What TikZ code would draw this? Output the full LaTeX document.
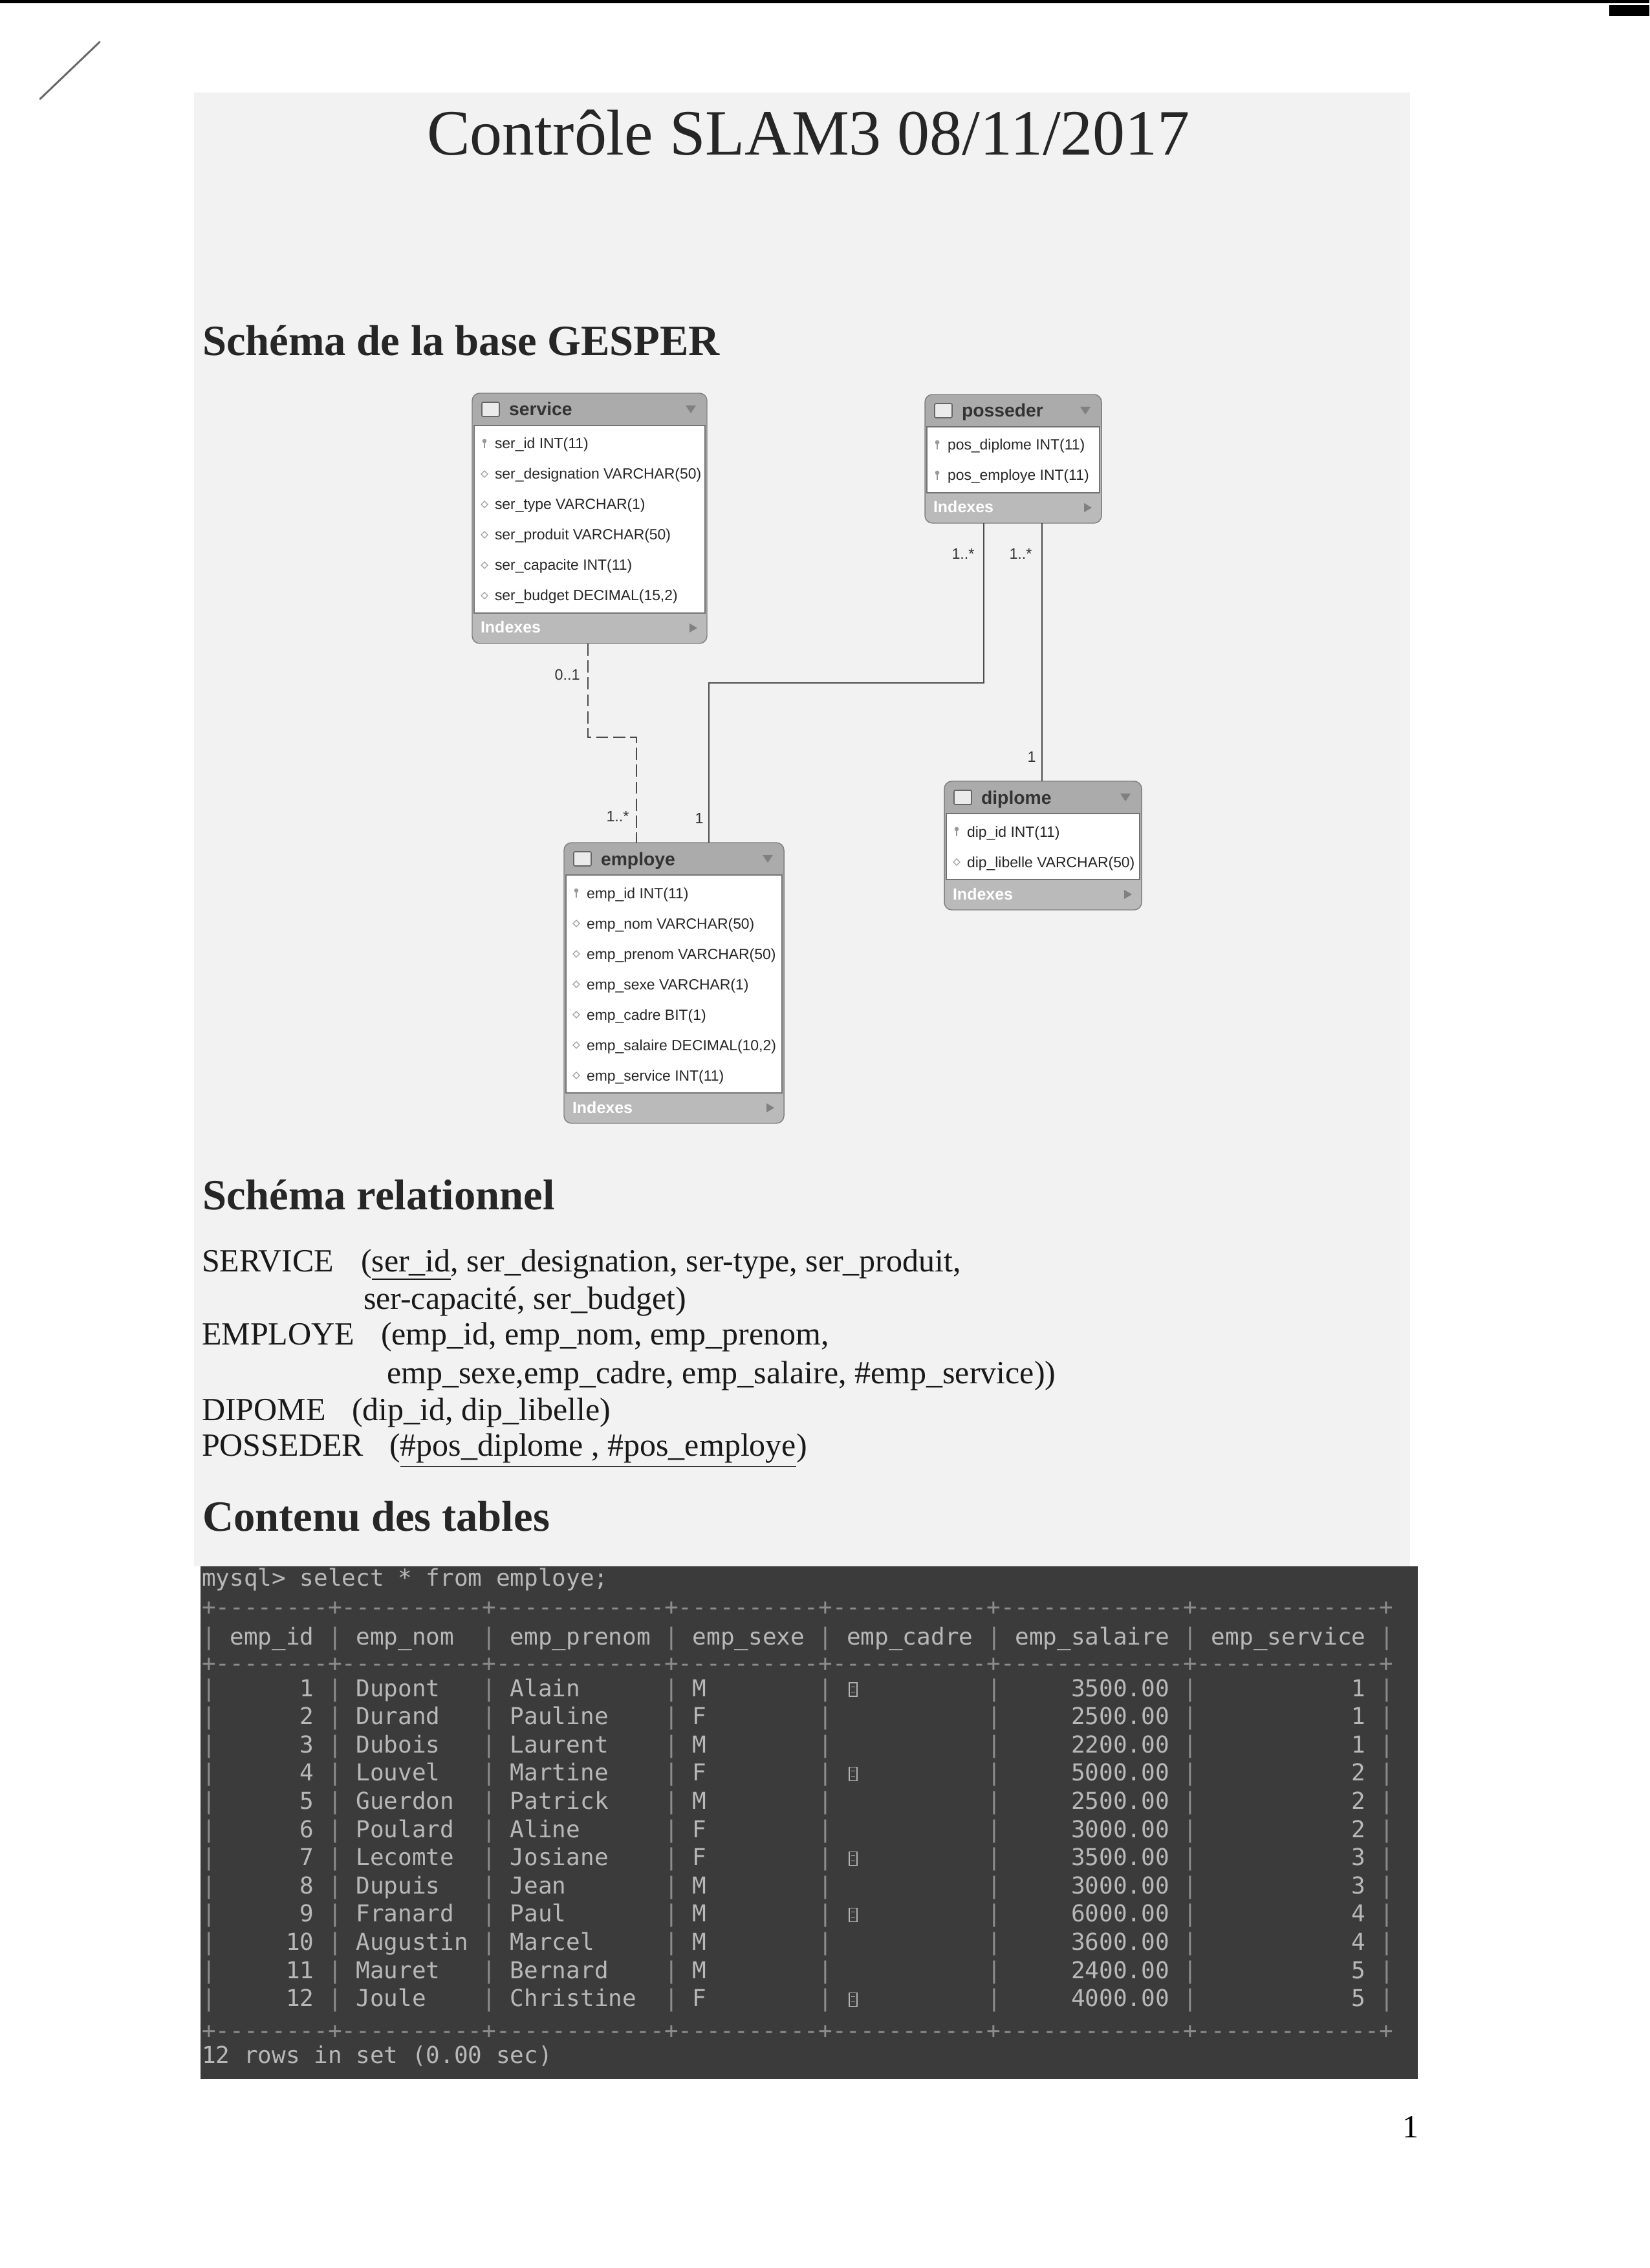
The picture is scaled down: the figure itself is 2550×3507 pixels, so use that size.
\documentclass[tikz,border=0pt]{standalone}
\usepackage{fontspec}
\setmainfont{Liberation Serif}
\newfontfamily\wbfont{Liberation Sans}
\newfontfamily\termfont{DejaVu Sans Mono}
\usetikzlibrary{calc}

% Workbench-style table: name, left, top, width, number of rows, title
\newcommand\wbtable[6]{%
  \pgfmathsetmacro\wbH{105+47*#5}%
  \pgfmathsetmacro\wbB{#3+\wbH}%
  \pgfmathsetmacro\wbE{#3+58+47*#5}%
  \begin{scope}
    \clip[rounded corners=2.8pt] (#2,#3) rectangle ({#2+#4},\wbB);
    \fill[black!27] (#2,#3) rectangle ({#2+#4},\wbB);
    \fill[black!33] (#2,#3) rectangle ({#2+#4},{#3+50});
  \end{scope}
  \fill[white, draw=black!55, line width=0.3pt] ({#2+3},{#3+50}) rectangle ({#2+#4-3},\wbE);
  \draw[black!50, line width=0.35pt, rounded corners=2.8pt] (#2,#3) rectangle ({#2+#4},\wbB);
  \node[minimum width={#4*0.24pt}, minimum height={\wbH*0.24pt}, anchor=north west] (#1) at (#2,#3) {};
  \draw[black!60, fill=black!8, line width=0.4pt, rounded corners=0.5pt] ({#2+15},{#3+14}) rectangle ({#2+42},{#3+36});
  \node[wbtitle] (#1-title) at ({#2+57},{#3+35}) {#6};
  \fill[black!50] ({#2+#4-33},{#3+19}) -- ({#2+#4-17},{#3+19}) -- ({#2+#4-25},{#3+31}) -- cycle;
  \node[wbidx] (#1-idx) at ({#2+13},{\wbB-16}) {Indexes};
  \fill[black!50] ({#2+#4-27},{\wbB-31}) -- ({#2+#4-15},{\wbB-24}) -- ({#2+#4-27},{\wbB-17}) -- cycle;
}

% one column line of a table: table, index, text, k (key) or d (plain)
\newcommand\wbrow[4]{%
  \node[wbrow] (#1-r#2) at ($(#1.north west)+(35,{86+47*#2})$) {#3};
  \coordinate (#1-i#2) at ($(#1.north west)+(19,{78+47*#2})$);
  \if#4k
    \fill[black!40] (#1-i#2) ++(0,-4) circle (0.8pt);
    \draw[black!40, line width=0.35pt] (#1-i#2) ++(0,-2) -- ++(0,9);
  \else
    \draw[black!38, line width=0.3pt] (#1-i#2) ++(-5,0) -- ++(5,-5) -- ++(5,5) -- ++(-5,5) -- cycle;
  \fi
}

% console separator line
\newcommand\tdash[1]{\foreach\q in {1,...,#1}{-\kern0pt}}
\newcommand\tsep{+\tdash{8}+\tdash{10}+\tdash{12}+\tdash{10}+\tdash{11}+\tdash{13}+\tdash{13}+}

\begin{document}
\begin{tikzpicture}[x=0.24pt, y=-0.24pt,
  every node/.style={inner sep=0pt, outer sep=0pt},
  heading/.style={anchor=base west, font=\fontsize{16}{19}\selectfont\bfseries, text=black!85},
  rel/.style={anchor=base west, font=\fontsize{12}{14}\selectfont, text=black!90},
  wbrow/.style={anchor=base west, font=\wbfont\fontsize{5.5}{6.5}\selectfont, text=black!85},
  wbtitle/.style={anchor=base west, font=\wbfont\bfseries\fontsize{6.8}{8}\selectfont, text=black!80},
  wbidx/.style={anchor=base west, font=\wbfont\bfseries\fontsize{6}{7}\selectfont, text=white},
  card/.style={font=\wbfont\fontsize{5.6}{7}\selectfont, text=black!80},
  fk/.style={draw=black!70, line width=0.45pt},
  fkdash/.style={fk, dash pattern=on 4.5pt off 1.8pt},
  term/.style={anchor=base west, font=\termfont\fontsize{8.64}{10}\selectfont, text=black!28},
  termr/.style={term, anchor=base east},
  termsep/.style={term, text=black!45}]

\useasboundingbox (0,0) rectangle (2550,3507);
\fill[white] (0,0) rectangle (2550,3507);

% page edge marks
\fill[black] (0,0) rectangle (2550,5);
\fill[black] (2488,8) rectangle (2550,25);
\draw[black!60, line width=0.7pt, line cap=round] (154,65) -- (62,153);

% pasted content area
\fill[black!5] (300,143) rectangle (2180,2422);

% title and headings
\node[anchor=base, font=\fontsize{24}{28}\selectfont, text=black!85] (title) at (1250,240) {Contrôle SLAM3 08/11/2017};
\node[heading] (h1) at (313,550) {Schéma de la base GESPER};
\node[heading] (h2) at (313,1870) {Schéma relationnel};
\node[heading] (h3) at (313,2367) {Contenu des tables};

% ---------- EER diagram ----------
\wbtable{service}{730}{608}{363}{6}{service}
\wbrow{service}{0}{ser\_id INT(11)}{k}
\wbrow{service}{1}{ser\_designation VARCHAR(50)}{d}
\wbrow{service}{2}{ser\_type VARCHAR(1)}{d}
\wbrow{service}{3}{ser\_produit VARCHAR(50)}{d}
\wbrow{service}{4}{ser\_capacite INT(11)}{d}
\wbrow{service}{5}{ser\_budget DECIMAL(15,2)}{d}

\wbtable{posseder}{1430}{610}{273}{2}{posseder}
\wbrow{posseder}{0}{pos\_diplome INT(11)}{k}
\wbrow{posseder}{1}{pos\_employe INT(11)}{k}

\wbtable{diplome}{1460}{1208}{305}{2}{diplome}
\wbrow{diplome}{0}{dip\_id INT(11)}{k}
\wbrow{diplome}{1}{dip\_libelle VARCHAR(50)}{d}

\wbtable{employe}{872}{1303}{340}{7}{employe}
\wbrow{employe}{0}{emp\_id INT(11)}{k}
\wbrow{employe}{1}{emp\_nom VARCHAR(50)}{d}
\wbrow{employe}{2}{emp\_prenom VARCHAR(50)}{d}
\wbrow{employe}{3}{emp\_sexe VARCHAR(1)}{d}
\wbrow{employe}{4}{emp\_cadre BIT(1)}{d}
\wbrow{employe}{5}{emp\_salaire DECIMAL(10,2)}{d}
\wbrow{employe}{6}{emp\_service INT(11)}{d}

% relationships
\coordinate (j1) at (909,1140);
\coordinate (j2) at (984,1140);
\coordinate (j3) at (1521,1056);
\coordinate (j4) at (1096,1056);
\coordinate (j5) at (1611,1000);
\draw[fkdash] (service.south -| j1) -- (j1) -- (j2) -- (employe.north -| j2);
\draw[fk] (posseder.south -| j3) -- (j3) -- (j4) -- (employe.north -| j4);
\draw[fk] (posseder.south -| j5) -- (diplome.north -| j5);

\node[card] (c1) at (877,1043) {0..1};
\node[card] (c2) at (955,1262) {1..*};
\node[card] (c3) at (1081,1265) {1};
\node[card] (c4) at (1489,856) {1..*};
\node[card] (c5) at (1578,856) {1..*};
\node[card] (c6) at (1595,1170) {1};

% ---------- relational schema ----------
\node[rel] (s1) at (312,1966) {SERVICE};
\node[rel] (s1a) at (558,1966) {(\underline{ser\_id}, ser\_designation, ser-type, ser\_produit,};
\node[rel] (s1b) at (562,2024) {ser-capacité, ser\_budget)};
\node[rel] (s2) at (312,2079) {EMPLOYE};
\node[rel] (s2a) at (589,2079) {(emp\_id, emp\_nom, emp\_prenom,};
\node[rel] (s2b) at (598,2139) {emp\_sexe,emp\_cadre, emp\_salaire, \#emp\_service))};
\node[rel] (s3) at (312,2196) {DIPOME};
\node[rel] (s3a) at (544,2196) {(dip\_id, dip\_libelle)};
\node[rel] (s4) at (312,2251) {POSSEDER};
\node[rel] (s4a) at (602,2251) {(\underline{\#pos\_diplome , \#pos\_employe})};

% ---------- console output ----------
\fill[black!77] (310,2422) rectangle (2192,3215);
\node[term] (cmd) at (312,2452) {mysql> select * from employe;};
\node[termsep] (sep1) at (312,2497) {\tsep};
\node[termsep] (sep2) at (312,2584) {\tsep};
\node[termsep] (sep3) at (312,3152) {\tsep};
\node[term] (rows) at (312,3190) {12 rows in set (0.00 sec)};

\foreach \c/\t in {2/emp\_id, 11/emp\_nom, 22/emp\_prenom, 35/emp\_sexe, 46/emp\_cadre, 58/emp\_salaire, 72/emp\_service}
  \node[term] (hd-\c) at ({312+21.68*\c},2543) {\t};
\foreach \c in {0,9,20,33,44,56,70,84}
  \node[termsep] (hp-\c) at ({312+21.68*\c},2543) {|};

\foreach \i/\nm/\pr/\sx/\bt/\sl/\sv in {
  1/Dupont/Alain/M/1/3500.00/1,
  2/Durand/Pauline/F/0/2500.00/1,
  3/Dubois/Laurent/M/0/2200.00/1,
  4/Louvel/Martine/F/1/5000.00/2,
  5/Guerdon/Patrick/M/0/2500.00/2,
  6/Poulard/Aline/F/0/3000.00/2,
  7/Lecomte/Josiane/F/1/3500.00/3,
  8/Dupuis/Jean/M/0/3000.00/3,
  9/Franard/Paul/M/1/6000.00/4,
  10/Augustin/Marcel/M/0/3600.00/4,
  11/Mauret/Bernard/M/0/2400.00/5,
  12/Joule/Christine/F/1/4000.00/5} {
  \pgfmathsetmacro\yy{2623+43.6*(\i-1)}
  \node[termr] (id-\i) at (485.4,\yy) {\i};
  \node[term] (nom-\i) at ({312+21.68*11},\yy) {\nm};
  \node[term] (pre-\i) at ({312+21.68*22},\yy) {\pr};
  \node[term] (sx-\i) at ({312+21.68*35},\yy) {\sx};
  \node[termr] (sal-\i) at ({312+21.68*69},\yy) {\sl};
  \node[termr] (srv-\i) at ({312+21.68*83},\yy) {\sv};
  \ifnum\bt=1
    \draw[black!30, line width=0.3pt] (1313,{\yy-21}) rectangle (1325,\yy);
    \draw[black!30, line width=0.25pt] (1316,{\yy-15}) -- (1322,{\yy-15}) (1316,{\yy-7}) -- (1322,{\yy-7});
  \fi
  \foreach \c in {0,9,20,33,44,56,70,84}
    \node[termsep] (p-\i-\c) at ({312+21.68*\c},\yy) {|};
}

% page number
\node[anchor=base, font=\fontsize{12}{14}\selectfont] (pgno) at (2181,3305) {1};

\end{tikzpicture}
\end{document}
